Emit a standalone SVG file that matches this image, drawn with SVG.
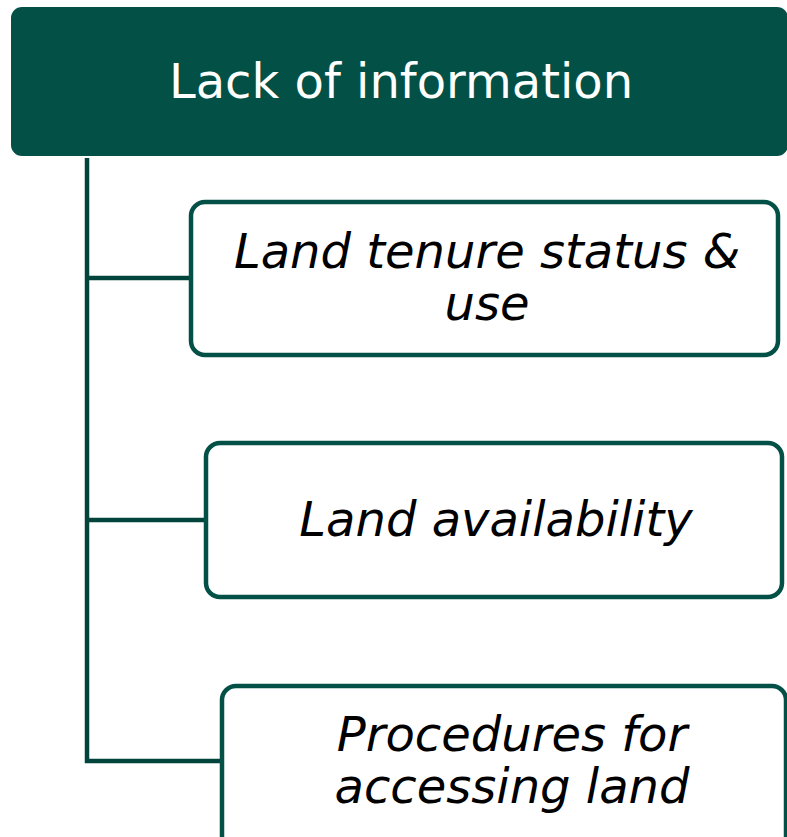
<svg xmlns="http://www.w3.org/2000/svg" width="787" height="837" viewBox="0 0 787 837">
<style>
.box{fill:#ffffff;stroke:#035046;stroke-width:4.5}
.conn{fill:none;stroke:#01443b;stroke-width:4.5;stroke-linejoin:miter}
.t{font-family:"DejaVu Sans",Verdana,sans-serif;font-size:48px;text-anchor:middle}
.it{font-style:italic;fill:#000000}
</style>
<rect width="787" height="837" fill="#ffffff"/>
<g id="connectors">
<path class="conn" d="M87,158 V761 H222"/>
<path class="conn" d="M87,278 H191"/>
<path class="conn" d="M87,520 H206"/>
</g>
<g id="root">
<rect x="11" y="7" width="777" height="149" rx="11" fill="#035046"/>
<text class="t" x="401" y="98" fill="#ffffff">Lack of information</text>
</g>
<g id="node1">
<rect class="box" x="191" y="202" width="587" height="153" rx="14"/>
<text class="t it" x="487" y="268">Land tenure status &amp;</text>
<text class="t it" x="487" y="320">use</text>
</g>
<g id="node2">
<rect class="box" x="206" y="443" width="576" height="154" rx="14"/>
<text class="t it" x="496" y="536">Land availability</text>
</g>
<g id="node3">
<rect class="box" x="222" y="686" width="564" height="170" rx="14"/>
<text class="t it" x="512" y="751">Procedures for</text>
<text class="t it" x="512" y="803">accessing land</text>
</g>
</svg>
